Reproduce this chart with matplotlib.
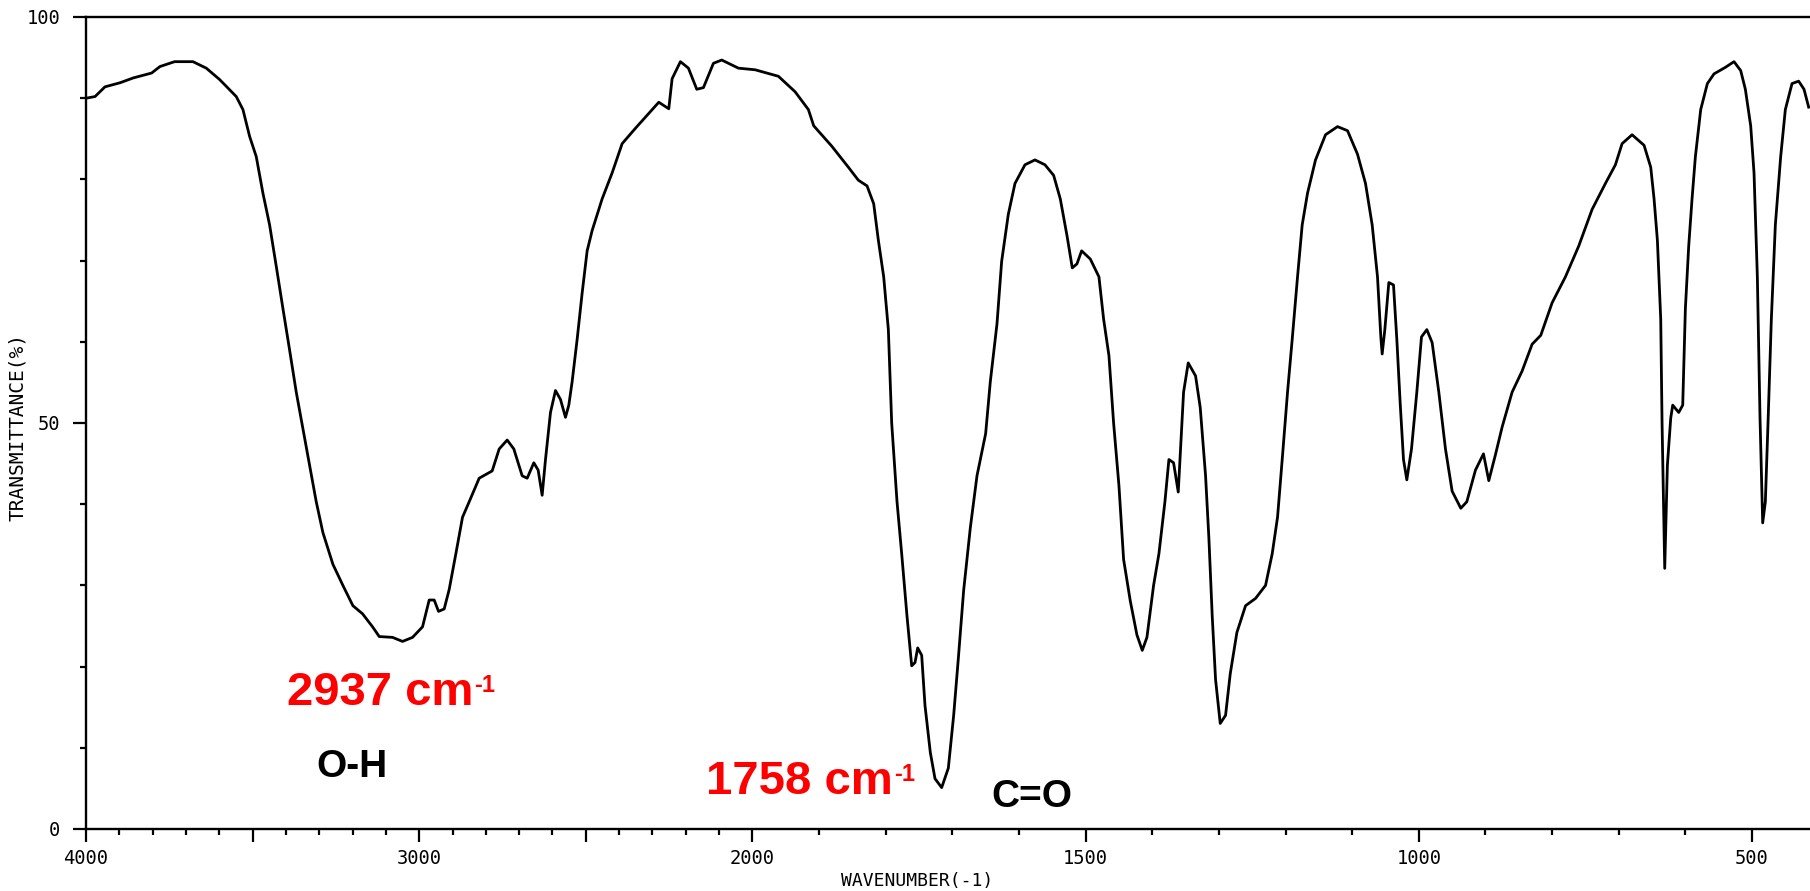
import numpy as np
import matplotlib
matplotlib.use('Agg')
import matplotlib.pyplot as plt
from matplotlib.ticker import FixedLocator, FixedFormatter

# IR spectrum: wavenumber (cm-1) and transmittance (%)
wavenumber = [
    4000, 3973, 3943, 3898, 3858, 3803, 3778, 3734, 3679, 3639, 3599, 3549,
    3529, 3509, 3489, 3469, 3449, 3429, 3409, 3389, 3369, 3349, 3329, 3309,
    3289, 3259, 3229, 3199, 3170, 3140, 3120, 3080, 3050, 3020, 2990, 2970,
    2955, 2942, 2925, 2910, 2890, 2870, 2850, 2820, 2781, 2760, 2736, 2716,
    2691, 2676, 2656, 2643, 2631, 2621, 2606, 2591, 2576, 2561, 2551, 2541,
    2526, 2511, 2496, 2481, 2451, 2421, 2391, 2351, 2316, 2281, 2251, 2241,
    2216, 2192, 2167, 2147, 2117, 2092, 2042, 1996, 1961, 1936, 1916, 1908,
    1881, 1856, 1841, 1828, 1818, 1811, 1803, 1796, 1791, 1783, 1776, 1768,
    1761, 1756, 1752, 1746, 1741, 1733, 1726, 1716, 1706, 1698, 1691, 1683,
    1673, 1663, 1650, 1643, 1633, 1626, 1616, 1606, 1591, 1576, 1561, 1548,
    1538, 1528, 1520, 1513, 1506, 1493, 1480, 1473, 1465, 1458, 1450, 1443,
    1433, 1423, 1415, 1408, 1400, 1398, 1390, 1381, 1375, 1368, 1361, 1358,
    1353, 1346, 1335, 1328, 1320, 1315, 1310, 1305, 1298, 1290, 1283, 1273,
    1260, 1245, 1230, 1220, 1212, 1205, 1197, 1190, 1182, 1175, 1167, 1155,
    1140, 1122, 1107, 1092, 1080, 1070, 1062, 1057, 1055, 1051, 1045, 1038,
    1033, 1028, 1023, 1018, 1011, 1003, 996, 988, 980, 970, 960, 950,
    937, 928, 915, 903, 895, 885, 875, 860, 845, 830, 817, 800,
    780, 760, 740, 720, 705, 695, 680, 662, 652, 647, 642, 637,
    635, 631, 627, 622, 619, 610, 604, 600, 595, 590, 585, 577,
    567, 557, 540, 527, 517, 510, 502, 497, 492, 488, 484, 480,
    476, 471, 465, 457, 450, 440, 430, 422, 415,
]
transmittance = [
    90.0, 90.2, 91.4, 91.9, 92.5, 93.1, 93.9, 94.5, 94.5, 93.7, 92.3, 90.2,
    88.6, 85.3, 82.8, 78.3, 74.4, 69.3, 64.1, 59.0, 53.8, 49.3, 44.8, 40.3,
    36.5, 32.6, 30.0, 27.5, 26.5, 24.9, 23.7, 23.6, 23.1, 23.6, 24.9, 28.2,
    28.2, 26.8, 27.1, 29.5, 33.9, 38.4, 40.3, 43.2, 44.1, 46.8, 47.9, 46.8,
    43.5, 43.2, 45.1, 44.2, 41.1, 45.5, 51.3, 54.0, 52.9, 50.7, 52.2, 55.1,
    60.3, 66.0, 71.2, 73.7, 77.6, 80.8, 84.4, 86.3, 87.9, 89.5, 88.7, 92.4,
    94.5, 93.7, 91.1, 91.3, 94.3, 94.7, 93.7, 93.5, 92.7, 90.8, 88.6, 86.6,
    84.1, 81.5, 79.9, 79.2, 77.0, 72.5, 68.0, 61.5, 50.0, 40.3, 33.9, 26.2,
    20.1, 20.5, 22.3, 21.4, 15.2, 9.4, 6.2, 5.1, 7.5, 14.0, 21.0, 29.4,
    37.1, 43.5, 48.7, 55.1, 62.2, 69.9, 75.7, 79.5, 81.8, 82.4, 81.8, 80.5,
    77.6, 73.1, 69.1, 69.6, 71.2, 70.2, 68.0, 62.8, 58.3, 50.0, 42.3, 33.2,
    28.1, 23.9, 22.0, 23.6, 28.7, 30.0, 33.9, 40.3, 45.5, 45.1, 41.5, 46.1,
    53.8, 57.4, 55.8, 51.9, 43.5, 35.8, 26.2, 18.4, 13.0, 14.0, 19.1, 24.2,
    27.5, 28.4, 30.0, 33.9, 38.4, 45.5, 53.8, 60.3, 68.0, 74.4, 78.3, 82.4,
    85.5, 86.5, 86.0, 83.1, 79.5, 74.4, 68.0, 60.6, 58.5, 61.5, 67.3, 67.0,
    60.3, 52.5, 45.5, 43.0, 46.8, 53.8, 60.6, 61.5, 59.9, 53.8, 46.8, 41.6,
    39.5, 40.3, 44.2, 46.2, 42.9, 46.1, 49.5, 53.8, 56.4, 59.7, 60.8, 64.8,
    68.0, 71.8, 76.3, 79.5, 81.8, 84.4, 85.5, 84.2, 81.5, 77.6, 72.5, 62.8,
    50.0, 32.1, 44.8, 50.6, 52.2, 51.3, 52.2, 64.1, 71.8, 77.6, 82.8, 88.6,
    91.8, 93.0, 93.8, 94.5, 93.4, 91.1, 86.6, 80.8, 68.0, 50.6, 37.7, 40.3,
    50.0, 62.8, 74.4, 82.8, 88.6, 91.8, 92.1, 91.1, 88.9,
]

x_major = [4000, 3500, 3000, 2500, 2000, 1500, 1000, 500]
x_major_labels = ['4000', '', '3000', '', '2000', '1500', '1000', '500']
y_major = [0, 50, 100]
y_major_labels = ['0', '50', '100']

peak_labels = ['2937 cm', '1758 cm']
bond_labels = ['O-H', 'C=O']


# chart paper: 1000 cm-1 per unit above 2000, 500 cm-1 per unit below
def _fwd(x):
    x = np.asarray(x, dtype=float)
    return np.where(x < 2000, x / 500.0, x / 1000.0 + 2.0)


def _inv(u):
    u = np.asarray(u, dtype=float)
    return np.where(u < 4, u * 500.0, (u - 2.0) * 1000.0)


W, H = 1810, 891
fig = plt.figure(figsize=(W / 100, H / 100), dpi=100)
ax = fig.add_axes([86 / W, (H - 829) / H, (W - 86) / W, (829 - 17) / H])

ax.plot(wavenumber, transmittance, color='black', lw=2.0)

ax.set_xscale('function', functions=(_fwd, _inv))
ax.set_xlim(4000, 413)
ax.set_ylim(0, 100)

minor_x = [w for w in range(500, 4000, 100) if w not in x_major]
ax.xaxis.set_major_locator(FixedLocator(x_major))
ax.xaxis.set_major_formatter(FixedFormatter(x_major_labels))
ax.xaxis.set_minor_locator(FixedLocator(minor_x))
ax.yaxis.set_major_locator(FixedLocator(y_major))
ax.yaxis.set_major_formatter(FixedFormatter(y_major_labels))
ax.yaxis.set_minor_locator(FixedLocator([10, 20, 30, 40, 60, 70, 80, 90]))

mono = 'DejaVu Sans Mono'
ax.tick_params(which='major', direction='out', length=9.5, width=1.6,
               labelsize=13.5, colors='black')
ax.tick_params(which='minor', direction='out', length=4.3, width=1.6)
ax.tick_params(axis='x', which='major', pad=5)
ax.tick_params(axis='y', which='major', pad=9)
for lab in ax.get_xticklabels() + ax.get_yticklabels():
    lab.set_family(mono)

ax.spines['right'].set_visible(False)
for s in ['left', 'top', 'bottom']:
    ax.spines[s].set_linewidth(1.7)

ax.set_xlabel('WAVENUMBER(-1)', family=mono, fontsize=13)
ax.xaxis.set_label_coords(0.482, -0.053)
ax.set_ylabel('TRANSMITTANCE(%)', family=mono, fontsize=14)
ax.yaxis.set_label_coords(-0.034, 0.495)

# annotations
sans = 'Liberation Sans'
t1 = ax.text(3398, 15.3, peak_labels[0], color='#ff0000', fontsize=34,
             fontweight='bold', family=sans, va='baseline', ha='left')
ax.annotate('-1', xy=(1, 1), xycoords=t1, xytext=(1, -2),
            textcoords='offset points', color='#ff0000', fontsize=17,
            fontweight='bold', family=sans, va='top', ha='left')
t2 = ax.text(2138, 4.3, peak_labels[1], color='#ff0000', fontsize=34,
             fontweight='bold', family=sans, va='baseline', ha='left')
ax.annotate('-1', xy=(1, 1), xycoords=t2, xytext=(1, -2),
            textcoords='offset points', color='#ff0000', fontsize=17,
            fontweight='bold', family=sans, va='top', ha='left')
ax.text(3308, 6.4, bond_labels[0], color='black', fontsize=28,
        fontweight='bold', family=sans, va='baseline', ha='left')
ax.text(1641, 2.7, bond_labels[1], color='black', fontsize=28,
        fontweight='bold', family=sans, va='baseline', ha='left')

fig.savefig('out.png', dpi=100)
